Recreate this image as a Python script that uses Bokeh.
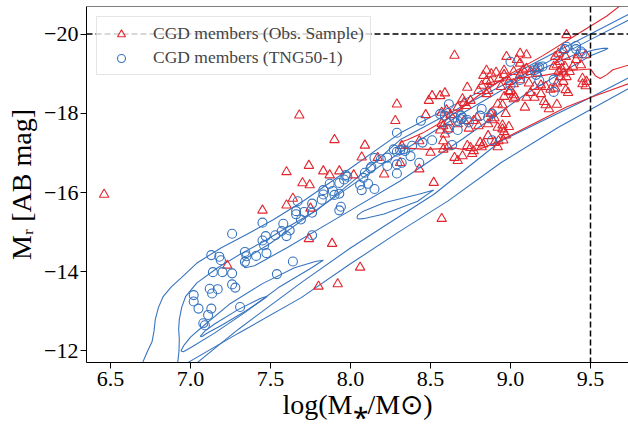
from bokeh.plotting import figure
from bokeh.models import (Range1d, FixedTicker, CustomJSTickFormatter, Span,
                          Legend, LegendItem)
from bokeh.embed import file_html
from bokeh.resources import INLINE

# ---------------- data ----------------
obs_logmass = [6.46, 7.23, 7.45, 7.60, 7.75, 7.74, 7.80, 7.92, 8.06, 7.885, 8.57, 7.68, 7.60, 7.74, 7.70,
               7.745, 7.64, 7.90, 8.09, 8.07, 8.17, 7.83, 7.87, 7.93, 8.02, 8.65, 8.29, 8.28, 8.21, 8.43,
               8.52, 8.47, 8.32, 8.51, 8.49, 8.56, 8.59, 8.73, 8.70, 8.71, 8.75, 8.725, 8.80, 8.82, 8.85,
               8.83, 8.88, 8.91, 8.85, 8.86, 8.85, 8.92, 8.885, 8.86, 8.92, 8.90, 8.57, 8.60, 8.625, 8.57,
               8.58, 8.61, 8.56, 8.59, 8.61, 8.67, 8.71, 8.74, 8.77, 8.79, 8.80, 8.67, 8.86, 8.90, 8.92,
               8.73, 8.75, 8.77, 8.82, 8.81, 8.67, 8.70, 8.76, 8.50, 8.58, 8.61, 8.58, 8.43, 8.31, 9.35,
               8.975, 9.06, 9.10, 9.06, 9.04, 8.96, 9.02, 9.08, 9.06, 9.10, 9.16, 9.125, 9.17, 9.28, 9.30,
               9.31, 9.29, 9.27, 9.32, 9.30, 9.34, 9.33, 9.31, 9.35, 9.37, 9.39, 9.41, 9.44, 9.42, 9.47,
               9.45, 9.475, 9.47, 9.45, 9.33, 9.345, 8.93, 8.96, 8.99, 9.02, 9.06, 9.115, 9.15, 9.19, 9.22,
               9.25, 9.28, 9.29, 9.33, 9.345, 9.36, 8.875, 8.94, 8.99, 8.96, 9.02, 9.03, 9.10, 9.125, 9.19,
               9.21, 9.22, 9.29, 8.95, 8.97, 8.875, 8.885, 8.95, 8.96, 8.97, 8.955, 8.65, 8.83, 8.925, 8.95,
               8.99, 9.09, 9.24, 9.15, 9.02, 9.00]
obs_mr = [-15.95, -14.16, -15.55, -15.68, -15.60, -14.83, -13.63, -13.69, -14.11, -14.71, -15.34, -17.95,
          -16.52, -16.68, -16.24, -16.19, -15.85, -17.33, -17.19, -16.89, -16.88, -16.54, -16.44, -16.54,
          -16.44, -19.46, -18.23, -17.81, -16.46, -16.59, -16.25, -17.96, -17.18, -18.44, -18.32, -18.44,
          -18.51, -18.65, -18.36, -18.27, -18.32, -18.19, -18.57, -18.70, -19.08, -18.95, -18.99, -19.03,
          -18.82, -18.57, -18.49, -18.23, -18.02, -17.73, -17.64, -17.88, -18.02, -18.08, -17.96, -17.74,
          -17.68, -17.78, -17.57, -17.47, -17.60, -17.73, -17.81, -17.62, -17.81, -17.89, -17.68, -18.15,
          -17.43, -17.26, -17.15, -17.18, -17.13, -17.05, -17.15, -17.26, -16.80, -16.92, -16.98, -17.01,
          -17.09, -17.15, -17.30, -17.30, -16.75, -19.98, -19.43, -19.51, -19.47, -19.26, -19.35, -19.08,
          -19.05, -19.09, -18.97, -19.13, -19.13, -19.05, -19.01, -19.43, -19.51, -19.30, -19.22, -19.18,
          -19.13, -19.05, -19.18, -19.01, -18.92, -18.92, -19.05, -19.18, -19.35, -19.22, -19.47, -19.47,
          -18.88, -18.80, -18.69, -18.74, -19.60, -19.43, -18.88, -18.97, -18.80, -18.74, -18.84, -18.76,
          -18.67, -18.71, -18.67, -18.60, -18.63, -18.76, -18.80, -18.59, -18.52, -18.80, -18.67, -18.54,
          -18.42, -18.46, -18.40, -18.40, -18.52, -18.49, -18.29, -18.21, -18.22, -18.21, -17.99, -17.99,
          -17.83, -17.70, -17.53, -17.45, -17.32, -16.88, -17.22, -17.30, -17.60, -17.66, -18.15, -18.11,
          -18.40, -18.36, -18.57]

tng_logmass = [7.45, 7.26, 7.13, 7.18, 7.19, 7.14, 7.20, 7.26, 7.26, 7.28, 7.12, 7.17, 7.135, 7.02, 7.02,
               7.05, 7.13, 7.11, 7.08, 7.09, 7.31, 7.34, 7.35, 7.34, 7.41, 7.475, 7.45, 7.47, 7.46, 7.54,
               7.64, 7.66, 7.66, 7.71, 7.76, 7.69, 7.58, 7.62, 7.57, 7.53, 7.76, 7.93, 7.94, 7.67, 7.76,
               7.60, 7.82, 7.83, 7.83, 7.87, 7.89, 7.90, 7.93, 7.93, 7.96, 7.97, 7.98, 8.06, 8.07, 8.11,
               8.15, 8.09, 8.13, 8.15, 8.615, 8.44, 8.29, 8.51, 8.45, 8.385, 8.375, 8.43, 8.33, 8.34, 8.27,
               8.29, 8.31, 8.23, 8.19, 8.125, 8.08, 8.23, 8.29, 8.32, 8.29, 8.65, 8.67, 8.69, 8.69, 8.70,
               8.73, 8.74, 8.61, 8.67, 8.82, 8.81, 8.86, 8.885, 8.56, 8.59, 8.635, 9.00, 9.34, 9.41, 9.41,
               9.44, 9.45, 9.35, 9.15, 9.17, 9.18, 9.20, 9.16, 9.18, 9.27, 9.27, 9.00, 9.06, 8.885]
tng_mr = [-15.24, -14.96, -14.42, -14.38, -14.29, -13.99, -13.99, -13.96, -13.68, -13.60, -13.57, -13.56,
          -13.45, -13.41, -13.25, -13.07, -13.07, -12.91, -12.70, -12.65, -13.11, -14.50, -14.39, -14.25,
          -14.40, -14.47, -14.79, -14.90, -14.67, -13.94, -14.26, -15.45, -15.53, -15.51, -15.49, -15.32,
          -15.21, -15.04, -15.03, -14.92, -14.92, -15.55, -15.64, -15.78, -15.72, -14.90, -15.82, -16.06,
          -15.95, -16.22, -16.04, -15.94, -15.97, -16.24, -16.33, -16.44, -16.40, -16.19, -16.06, -16.22,
          -16.09, -16.50, -16.65, -16.87, -18.23, -17.81, -17.51, -17.32, -17.26, -17.18, -16.92, -16.75,
          -17.09, -17.05, -17.09, -17.03, -17.07, -16.88, -16.84, -16.61, -16.37, -16.67, -16.71, -16.75,
          -16.48, -17.89, -17.81, -17.85, -17.94, -17.89, -17.83, -17.77, -17.60, -17.58, -18.11, -17.94,
          -17.89, -17.32, -17.98, -17.94, -17.20, -19.30, -19.62, -19.70, -19.62, -19.56, -19.51, -19.68,
          -19.09, -19.13, -19.16, -19.18, -18.97, -18.82, -18.85, -18.54, -18.71, -18.84, -17.99]

# density contour lines (x = log mass, y = M_r)
tng_contour_x = [
    [6.70, 6.73, 6.76, 6.772, 6.78, 6.80, 6.83, 6.88, 6.94, 7.04, 7.19, 7.35, 7.52, 7.71, 7.96, 8.31, 8.70,
     9.10, 9.50, 9.74],
    [6.92, 6.928, 6.93, 6.926, 6.93, 6.945, 6.97, 7.04, 7.17, 7.31, 7.46, 7.60, 7.79, 8.05, 8.31, 8.70, 9.10,
     9.50, 9.74],
    [7.32, 7.34, 7.50, 7.80, 8.05, 8.31, 8.70, 9.10, 9.40, 9.52, 9.58, 9.61, 9.59, 9.50, 9.40, 9.10, 8.70,
     8.31, 7.92, 7.60, 7.40, 7.34, 7.32],
    [6.98, 7.30, 7.69, 8.00, 8.30, 8.61, 8.94, 9.30, 9.74],
    [7.04, 7.30, 7.69, 8.00, 8.21, 8.52, 8.94, 9.50, 9.74],
    [6.94, 6.96, 7.00, 7.10, 7.25, 7.45, 7.65, 7.78, 7.83, 7.81, 7.75, 7.55, 7.35, 7.15, 7.00, 6.955, 6.94],
    [7.06, 7.09, 7.15, 7.30, 7.44, 7.48, 7.46, 7.35, 7.20, 7.10, 7.07, 7.06],
    [8.04, 8.045, 8.08, 8.21, 8.42, 8.50, 8.52, 8.50, 8.42, 8.21, 8.08, 8.05, 8.04],
]
tng_contour_y = [
    [-11.70, -11.98, -12.24, -12.50, -12.80, -13.10, -13.38, -13.62, -13.84, -14.22, -14.60, -14.94, -15.32,
     -15.80, -16.50, -17.50, -18.32, -19.16, -20.00, -20.50],
    [-11.70, -12.00, -12.30, -12.55, -12.80, -13.10, -13.38, -13.72, -14.10, -14.44, -14.77, -15.11, -15.55,
     -16.40, -17.33, -18.18, -19.02, -19.86, -20.36],
    [-14.22, -14.32, -14.72, -15.60, -16.30, -17.01, -18.00, -18.95, -19.48, -19.60, -19.64, -19.64, -19.60,
     -19.45, -19.22, -18.50, -17.35, -16.29, -15.36, -14.60, -14.15, -14.10, -14.22],
    [-11.70, -12.45, -13.34, -14.20, -15.00, -15.79, -16.75, -17.65, -18.63],
    [-11.70, -12.55, -13.72, -14.60, -15.15, -15.95, -17.30, -18.40, -18.90],
    [-12.00, -12.15, -12.35, -12.70, -13.20, -13.70, -14.10, -14.26, -14.29, -14.24, -14.08, -13.60, -13.00,
     -12.45, -12.08, -11.98, -12.00],
    [-12.37, -12.50, -12.68, -13.05, -13.33, -13.38, -13.32, -13.02, -12.66, -12.44, -12.36, -12.37],
    [-15.36, -15.43, -15.53, -15.74, -15.95, -16.04, -16.06, -16.01, -15.78, -15.46, -15.34, -15.33, -15.36],
]
obs_contour_x = [
    [9.68, 9.60, 9.40, 9.20, 9.00, 8.80, 8.60, 8.45, 8.36, 8.31, 8.32, 8.35, 8.48, 8.65, 8.77, 8.83, 8.94,
     9.15, 9.35, 9.50, 9.74],
    [9.74, 9.64, 9.60, 9.56, 9.53, 9.50, 9.38, 9.20, 8.93, 8.80],
]
obs_contour_y = [
    [-20.70, -20.45, -19.95, -19.45, -19.00, -18.45, -17.85, -17.50, -17.34, -17.26, -17.17, -17.12, -17.09,
     -17.12, -17.05, -17.13, -17.32, -17.75, -18.16, -18.40, -18.75],
    [-19.22, -19.10, -18.97, -18.88, -18.95, -19.12, -19.08, -18.95, -18.82, -18.72],
]

x_ticks = [6.5, 7.0, 7.5, 8.0, 8.5, 9.0, 9.5]
y_ticks = [-20, -18, -16, -14, -12]
x_lims = (6.35, 9.7375)
y_lims = (-11.709, -20.696)   # magnitudes: brighter upwards
mass_limit = 9.5
mag_limit = -20

RED = "#e3262e"
BLUE = "#3674bf"
FONT = "Liberation Serif"

# ---------------- figure ----------------
p = figure(width=628, height=424, output_backend="svg", toolbar_location=None,
           x_range=Range1d(*x_lims), y_range=Range1d(*y_lims),
           min_border_left=86, min_border_right=0, min_border_top=6, min_border_bottom=62)
p.xgrid.visible = False
p.ygrid.visible = False
p.outline_line_color = None
p.background_fill_color = "white"
p.border_fill_color = "white"

for ax in (p.xaxis[0], p.yaxis[0]):
    ax.axis_line_color = "black"
    ax.axis_line_width = 1
    ax.major_tick_line_color = "black"
    ax.major_tick_out = 6
    ax.major_tick_in = 0
    ax.minor_tick_line_color = None
    ax.major_label_text_font = FONT
    ax.major_label_text_font_size = "22px"
    ax.major_label_text_color = "black"
    ax.axis_label_text_font = FONT
    ax.axis_label_text_font_size = "28px"
    ax.axis_label_text_font_style = "normal"
    ax.axis_label_text_color = "black"

p.xaxis.ticker = FixedTicker(ticks=x_ticks)
p.yaxis.ticker = FixedTicker(ticks=y_ticks)
p.xaxis.formatter = CustomJSTickFormatter(code="return tick.toFixed(1);")
p.yaxis.formatter = CustomJSTickFormatter(
    code="return (tick < 0 ? '\u2212' : '') + Math.abs(tick).toFixed(0);")
p.xaxis.major_label_standoff = 3
p.yaxis.major_label_standoff = 2
p.xaxis.axis_label = "log(M\u204e/M\u2299)"
p.yaxis.axis_label = "M\u1d63 [AB mag]"
p.xaxis.axis_label_standoff = 0
p.yaxis.axis_label_standoff = 4

# top spine
p.add_layout(Span(location=y_lims[1], dimension="width", line_color="black", line_width=1))

# contours
p.multi_line(tng_contour_x, tng_contour_y, line_color=BLUE, line_width=1.1)
p.multi_line(obs_contour_x, obs_contour_y, line_color=RED, line_width=1.1)

# points
r_obs = p.scatter(obs_logmass, obs_mr, marker="triangle", size=9.5, fill_color=None,
                  line_color=RED, line_width=1.1)
r_tng = p.scatter(tng_logmass, tng_mr, marker="circle", size=9, fill_color=None,
                  line_color=BLUE, line_width=1.1)

# limits
p.add_layout(Span(location=mass_limit, dimension="height", line_color="black",
                  line_width=1.5, line_dash="6 3"))
p.add_layout(Span(location=mag_limit, dimension="width", line_color="black",
                  line_width=1.5, line_dash="6 3"))

legend = Legend(items=[LegendItem(label="CGD members (Obs. Sample)", renderers=[r_obs]),
                       LegendItem(label="CGD members (TNG50-1)", renderers=[r_tng])],
                location="top_left", margin=10, padding=6, spacing=3,
                glyph_width=36, glyph_height=20, label_height=20, label_standoff=14,
                label_text_font=FONT, label_text_font_size="17.5px",
                border_line_color="#cccccc", border_line_width=1,
                background_fill_color="white", background_fill_alpha=0.8)
p.add_layout(legend)

open("out.html", "w").write(file_html(p, INLINE))
